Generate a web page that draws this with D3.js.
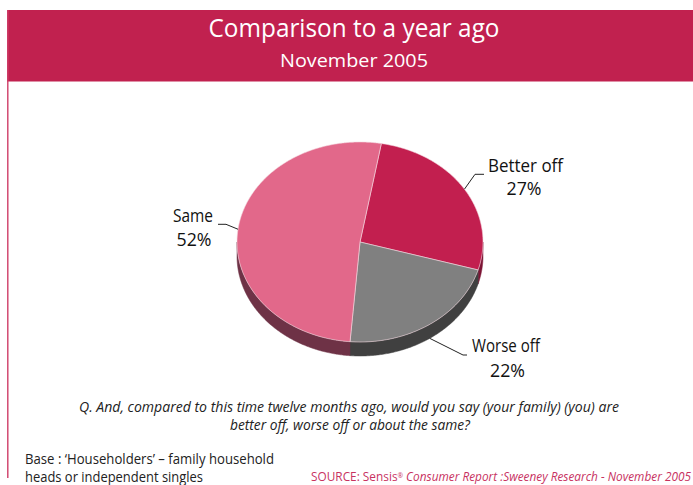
<!DOCTYPE html>
<html>
<head>
<meta charset="utf-8">
<script src="https://cdn.jsdelivr.net/npm/d3@7"></script>
<style>
  html, body { margin: 0; padding: 0; background: #fff; }
  svg { display: block; }
  text { font-family: "Open Sans", "Noto Sans", sans-serif; }
</style>
</head>
<body>
<svg id="chart" width="693" height="485"></svg>
<script>
// Survey answers, November 2005
const categories = ["Better off", "Worse off", "Same"];
const values = [27, 22, 52];
const topColors = ["#C21F4F", "#808080", "#E2688A"];
const sideColors = ["#7C1434", "#404040", "#6E3246"];

const titleText = "Comparison to a year ago";
const subtitleText = "November 2005";
const questionLines = [
  "Q. And, compared to this time twelve months ago, would you say (your family) (you) are",
  "better off, worse off or about the same?"
];
const baseLines = [
  "Base : \u2018Householders\u2019 \u2013 family household",
  "heads or independent singles"
];
const sourceLead = "SOURCE: Sensis";
const sourceRest = " Consumer Report :Sweeney Research - November 2005";

const svg = d3.select("#chart");
const W = 693, H = 485;
const accent = "#C1214F";

// header band and left rule
svg.append("rect").attr("x", 7).attr("y", 10).attr("width", W - 7).attr("height", 71.5)
  .attr("fill", accent);
svg.append("line").attr("x1", 7.8).attr("x2", 7.8).attr("y1", 10).attr("y2", 478)
  .attr("stroke", "#CF3D68").attr("stroke-width", 1.4);

svg.append("text").attr("x", 354).attr("y", 37).attr("text-anchor", "middle")
  .attr("fill", "#fff").attr("font-size", 26)
  .attr("textLength", 291).attr("lengthAdjust", "spacingAndGlyphs").text(titleText);
svg.append("text").attr("x", 354).attr("y", 66.5).attr("text-anchor", "middle")
  .attr("fill", "#fff").attr("font-size", 19)
  .attr("textLength", 148).attr("lengthAdjust", "spacingAndGlyphs").text(subtitleText);

// tilted pie
const cx = 360, cy = 242, rx = 123, ry = 100, depth = 14;
const pie = d3.pie().sort(null).value(d => d)
  .startAngle(10 * Math.PI / 180).endAngle(10 * Math.PI / 180 + 2 * Math.PI);
const arcs = pie(values);

// ellipse x/y from a pie angle (clockwise from 12 o'clock)
const px = a => cx + rx * Math.sin(a);
const py = a => cy - ry * Math.cos(a);

function arcPoints(a0, a1, dy) {
  const n = Math.max(2, Math.ceil(Math.abs(a1 - a0) / 0.01));
  return d3.range(n + 1).map(i => {
    const a = a0 + (a1 - a0) * i / n;
    return [px(a), py(a) + dy];
  });
}
const line = d3.line();

// front side walls (visible between 90° and 270°)
const g = svg.append("g");
const lo = Math.PI / 2, hi = 3 * Math.PI / 2;
arcs.forEach((d, i) => {
  const segs = [[d.startAngle, d.endAngle], [d.startAngle - 2 * Math.PI, d.endAngle - 2 * Math.PI]];
  segs.forEach(([s, e]) => {
    const a0 = Math.max(s, lo), a1 = Math.min(e, hi);
    if (a1 <= a0) return;
    const pts = arcPoints(a0, a1, 0).concat(arcPoints(a1, a0, depth));
    g.append("path").attr("d", line(pts) + "Z").attr("fill", sideColors[i])
      .attr("stroke", sideColors[i]).attr("stroke-width", 0.5);
  });
});

// top faces
arcs.forEach((d, i) => {
  const pts = [[cx, cy]].concat(arcPoints(d.startAngle, d.endAngle, 0));
  g.append("path").attr("d", line(pts) + "Z").attr("fill", topColors[i])
    .attr("stroke", "#f4d6df").attr("stroke-width", 0.6).attr("stroke-linejoin", "round");
});

// labels with leader lines
const labelSpec = [
  { elbow: [475, 174.3], end: [484, 174.3], nameX: 488, nameY: 171.7, nameW: 75, anchor: "start",
    pctX: 524, pctY: 195, pctW: 35, onSide: false },
  { elbow: [463, 355], end: [467, 355], nameX: 472, nameY: 352, nameW: 68, anchor: "start",
    pctX: 507.5, pctY: 377, pctW: 35, onSide: true },
  { elbow: [226, 224.3], end: [218, 224.3], nameX: 193, nameY: 222, nameW: 40, anchor: "middle",
    pctX: 194, pctY: 245.5, pctW: 35, onSide: false }
];
arcs.forEach((d, i) => {
  const s = labelSpec[i];
  const mid = (d.startAngle + d.endAngle) / 2;
  const start = [px(mid), py(mid) + (s.onSide ? depth : 0)];
  svg.append("path").attr("d", line([start, s.elbow, s.end]))
    .attr("fill", "none").attr("stroke", "#222").attr("stroke-width", 1);
  svg.append("text").attr("x", s.nameX).attr("y", s.nameY).attr("text-anchor", s.anchor)
    .attr("font-size", 18).attr("fill", "#111")
    .attr("textLength", s.nameW).attr("lengthAdjust", "spacingAndGlyphs").text(categories[i]);
  svg.append("text").attr("x", s.pctX).attr("y", s.pctY).attr("text-anchor", "middle")
    .attr("font-size", 18).attr("fill", "#111")
    .attr("textLength", s.pctW).attr("lengthAdjust", "spacingAndGlyphs").text(values[i] + "%");
});

// question
svg.append("text").attr("x", 349).attr("y", 412).attr("text-anchor", "middle")
  .attr("font-size", 14).attr("font-style", "italic").attr("fill", "#222")
  .attr("textLength", 540).attr("lengthAdjust", "spacingAndGlyphs").text(questionLines[0]);
svg.append("text").attr("x", 350).attr("y", 430).attr("text-anchor", "middle")
  .attr("font-size", 14).attr("font-style", "italic").attr("fill", "#222")
  .attr("textLength", 240).attr("lengthAdjust", "spacingAndGlyphs").text(questionLines[1]);

// base note
svg.append("text").attr("x", 25).attr("y", 464).attr("font-size", 14).attr("fill", "#222")
  .attr("textLength", 249).attr("lengthAdjust", "spacingAndGlyphs").text(baseLines[0]);
svg.append("text").attr("x", 25).attr("y", 482).attr("font-size", 14).attr("fill", "#222")
  .attr("textLength", 178).attr("lengthAdjust", "spacingAndGlyphs").text(baseLines[1]);

// source line, one text run so the pieces keep their spacing
const src = svg.append("text").attr("x", 311).attr("y", 481).attr("font-size", 12.5)
  .attr("fill", "#C8325F")
  .attr("textLength", 380).attr("lengthAdjust", "spacingAndGlyphs");
src.append("tspan").text(sourceLead);
src.append("tspan").attr("font-size", 7).attr("dy", -3).text("\u00AE");
src.append("tspan").attr("dy", 3).attr("font-style", "italic").text(sourceRest);
</script>
</body>
</html>
